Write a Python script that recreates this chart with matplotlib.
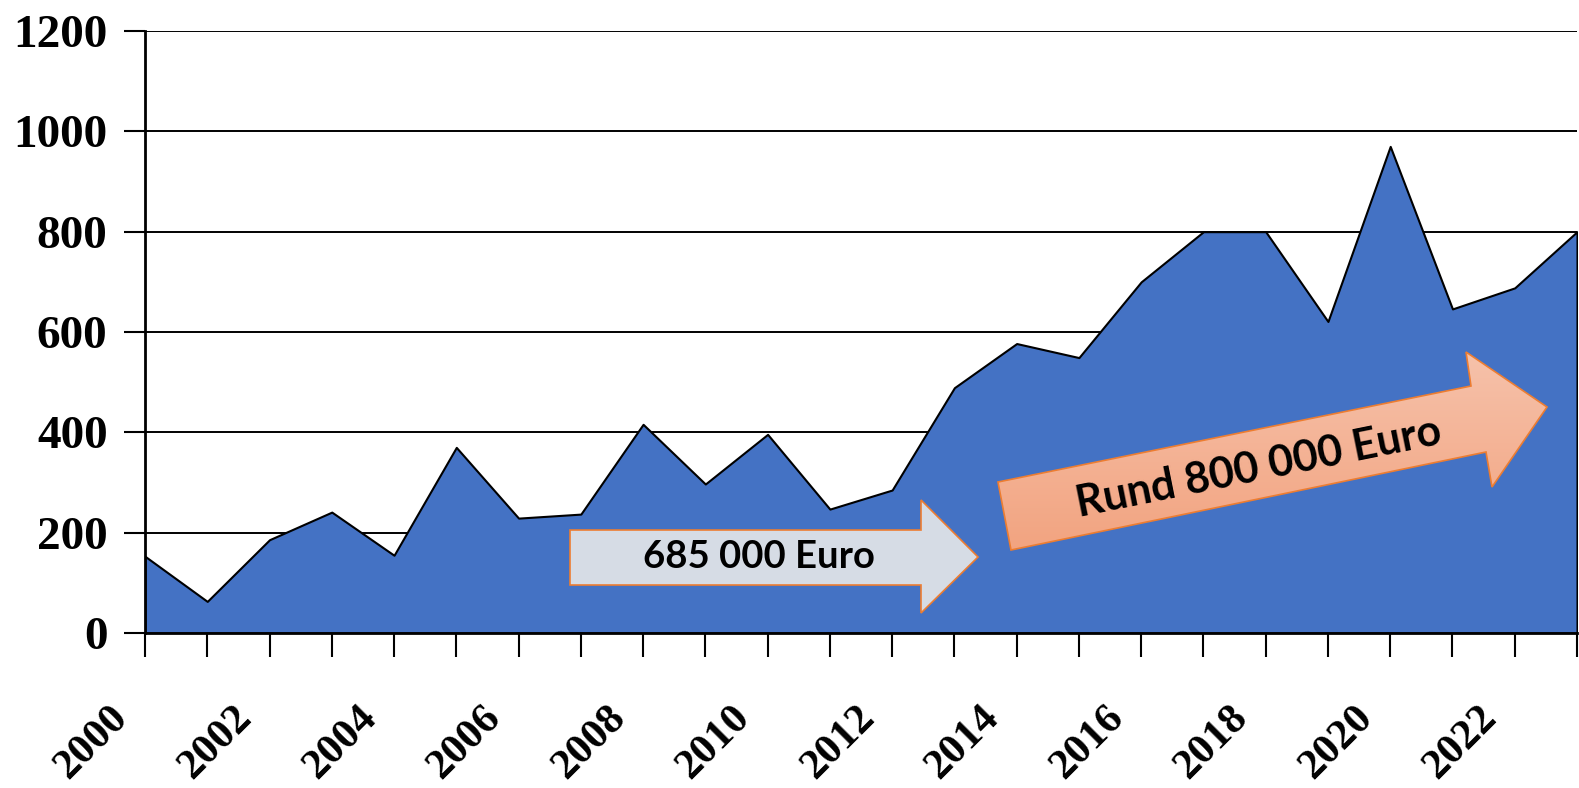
import matplotlib
matplotlib.use('Agg')
import matplotlib.pyplot as plt
import numpy as np
from matplotlib.patches import Polygon
import matplotlib.transforms as mtransforms
from matplotlib.font_manager import FontProperties

# ---- data ----
years = list(range(2000, 2024))
values = [153, 63, 186, 241, 155, 370, 229, 237, 416, 297, 396, 247,
          285, 489, 577, 549, 700, 800, 800, 621, 970, 646, 688, 800]
y_ticks = [0, 200, 400, 600, 800, 1000, 1200]
x_label_years = list(range(2000, 2023, 2))
arrow1_text = "685 000 Euro"
arrow2_text = "Rund 800 000 Euro"

W, H = 1579, 788
L, R, B, T = 145, 1577, 633, 31
fig = plt.figure(figsize=(W / 100, H / 100), dpi=100)
ax = fig.add_axes([L / W, 1 - B / H, (R - L) / W, (B - T) / H])

ax.fill_between(years, values, 0, facecolor='#4472C4', edgecolor='black',
                linewidth=1.5, zorder=2)
ax.set_xlim(years[0], years[-1])
ax.set_ylim(0, 1200)
ax.set_yticks(y_ticks)
ax.set_xticks(years)
ax.set_xticklabels([str(y) if y in x_label_years else '' for y in years])

ax.set_axisbelow(True)
ax.yaxis.grid(True, color='black', linewidth=1.4)
ax.xaxis.grid(False)
for s in ['top', 'right']:
    ax.spines[s].set_visible(False)
for s in ['left', 'bottom']:
    ax.spines[s].set_linewidth(2)
    ax.spines[s].set_zorder(3)

ax.tick_params(axis='y', direction='out', length=15, width=1.5, pad=12)
ax.tick_params(axis='x', direction='out', length=17, width=1.5, pad=30)
fp_y = FontProperties(family='Liberation Serif', weight='bold', size=34)
fp_x = FontProperties(family='Liberation Serif', weight='bold', size=31)
for lab in ax.get_yticklabels():
    lab.set_fontproperties(fp_y)
offset = mtransforms.ScaledTranslation(-10 / 100, 0, fig.dpi_scale_trans)
for lab in ax.get_xticklabels():
    lab.set_fontproperties(fp_x)
    lab.set_rotation(45)
    lab.set_ha('right')
    lab.set_va('top')
    lab.set_transform(lab.get_transform() + offset)

# ---- overlay in pixel coordinates for annotation arrows ----
ov = fig.add_axes([0, 0, 1, 1], zorder=5)
ov.axis('off')

arrow1 = [(570, 530), (921, 530), (921, 500), (978, 557), (921, 613),
          (921, 585), (570, 585)]
ov.add_patch(Polygon(arrow1, closed=True, facecolor='#D6DCE5',
                     edgecolor='#ED7D31', linewidth=1.2))
ov.text(759, 557, arrow1_text, ha='center', va='center', fontsize=27.5,
        fontfamily='Lato', fontweight='bold', color='black')

arrow2 = [(998, 482), (1471, 386), (1466, 352), (1547, 407), (1492, 487),
          (1486, 452), (1011, 550)]
poly2 = Polygon(arrow2, closed=True, facecolor='none', edgecolor='#ED7D31',
                linewidth=1.2, zorder=2)
ov.add_patch(poly2)
c_top = np.array([0xF6, 0xC3, 0xAC]) / 255
c_bot = np.array([0xF2, 0xA2, 0x7E]) / 255
t = np.linspace(0, 1, 200)[:, None, None]
grad = np.repeat(c_top * (1 - t) + c_bot * t, 2, axis=1)
im = ov.imshow(grad, extent=(990, 1555, 560, 345), aspect='auto',
               interpolation='bilinear', zorder=1)
im.set_clip_path(poly2)
ov.set_xlim(0, W)
ov.set_ylim(H, 0)
ov.text(1259, 468, arrow2_text, ha='center', va='center', fontsize=31,
        fontfamily='Lato', fontweight='bold', color='black', rotation=11.4,
        rotation_mode='anchor', zorder=3)

fig.savefig('out.png', dpi=100)
